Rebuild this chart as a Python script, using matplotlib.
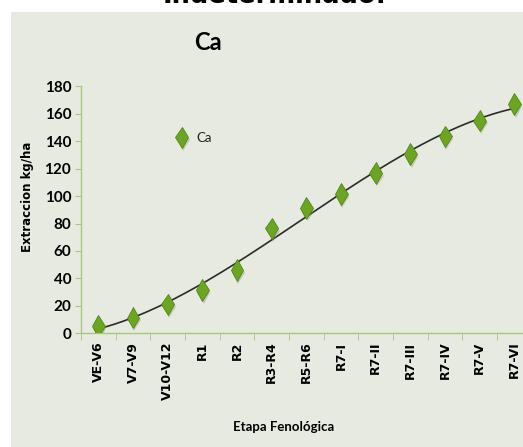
import numpy as np
import matplotlib
matplotlib.use("Agg")
import matplotlib.pyplot as plt
from matplotlib.patches import Rectangle
from matplotlib import patheffects as pe

# Growth stages and calcium extraction (kg/ha)
etapas = ["VE-V6", "V7-V9", "V10-V12", "R1", "R2", "R3-R4", "R5-R6",
          "R7-I", "R7-II", "R7-III", "R7-IV", "R7-V", "R7-VI"]
ca = [5.5, 11.5, 21, 31.5, 46, 76.5, 91.5, 101.5, 117, 130.5, 143.5, 155, 167]
yticks = [0, 20, 40, 60, 80, 100, 120, 140, 160, 180]

W, H = 523, 447
fig = plt.figure(figsize=(W / 100, H / 100), dpi=100)
fig.patch.set_facecolor("white")

# chart panel background
fig.patches.append(Rectangle((11 / W, 0), 1.0, 1 - 12 / H, transform=fig.transFigure,
                             facecolor="#E7EAE0", edgecolor="none", zorder=-5))

fig.text(275 / W, 1 - 3 / H, "Indeterminado:", ha="center", va="baseline",
         fontsize=18.5, fontweight="bold", family="DejaVu Sans")

ax = fig.add_axes([81 / W, 1 - 333.3 / H, 450.7 / W, 247 / H])
ax.set_facecolor("none")

x = np.arange(len(etapas))
green_axis = "#A8C87E"
cond = ["Lato", "DejaVu Sans"]

# cubic trend line
coef = np.polyfit(x, ca, 3)
xs = np.linspace(0, len(etapas) - 1, 200)
ax.plot(xs, np.polyval(coef, xs), color="#2b2b2b", lw=1.2, zorder=2)

ax.plot(x, ca, linestyle="none", marker="d", markersize=11, color="#6CA522",
        markeredgecolor="#4E8A12", markeredgewidth=0.6, label="Ca", zorder=3,
        path_effects=[pe.SimplePatchShadow(offset=(1, -2), shadow_rgbFace="#888888", alpha=0.35),
                      pe.Normal()])

ax.set_xlim(-0.5, len(etapas) - 0.5)
ax.set_ylim(0, 180)
ax.set_yticks(yticks)
ax.set_yticklabels([str(v) for v in yticks], family=cond, fontweight="bold", fontsize=11)
ax.set_xticks(x)
ax.set_xticklabels(etapas, rotation=90, fontweight="bold", fontsize=9, family="DejaVu Sans")
ax.set_xticks(np.arange(-0.5, len(etapas), 1), minor=True)
ax.tick_params(axis="x", which="major", length=0, pad=6)
ax.tick_params(axis="x", which="minor", length=5, color=green_axis, direction="out")
ax.tick_params(axis="y", length=4, color=green_axis, direction="out", pad=3)

for s in ("top", "right"):
    ax.spines[s].set_visible(False)
for s in ("left", "bottom"):
    ax.spines[s].set_color(green_axis)
    ax.spines[s].set_linewidth(1.0)

fig.text(208 / W, 1 - 43 / H, "Ca", ha="center", va="center", fontsize=17,
         fontweight="bold", family=cond)

fig.text(27 / W, 1 - 197 / H, "Extraccion kg/ha", rotation=90, ha="center", va="center",
         fontsize=8.5, fontweight="bold", family="DejaVu Sans")
fig.text(284 / W, 1 - 427 / H, "Etapa Fenológica", ha="center", va="center",
         fontsize=9.5, fontweight="bold", family=cond)

leg = ax.legend(loc="center left", bbox_to_anchor=((170 - 81) / 450.7, (333.3 - 138) / 247),
                frameon=False, handlelength=1.0, handletextpad=0.6, borderaxespad=0,
                prop={"family": cond, "size": 9.5})
for t in leg.get_texts():
    t.set_color("#222222")

fig.savefig("out.png", dpi=100)
